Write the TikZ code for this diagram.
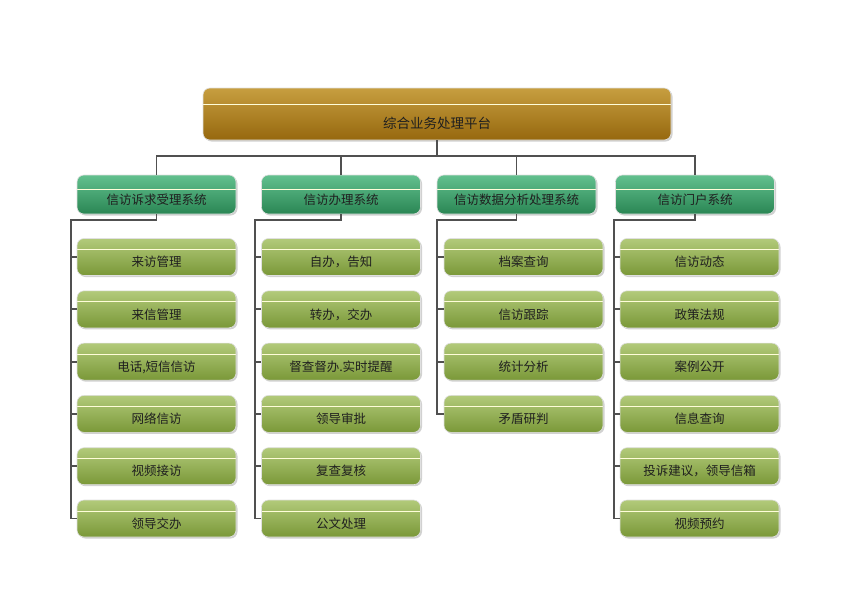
\documentclass[tikz,border=0pt]{standalone}
\usepackage{fontspec}
\setmainfont{Noto Sans CJK SC}
\usepackage{tikz}
\usetikzlibrary{shadows}
\definecolor{goldtop}{RGB}{199,158,64}
\definecolor{goldbot}{RGB}{150,104,14}
\definecolor{greentop}{RGB}{98,192,142}
\definecolor{greenbot}{RGB}{42,134,84}
\definecolor{olivetop}{RGB}{178,202,122}
\definecolor{olivebot}{RGB}{122,152,56}
\definecolor{linkgray}{RGB}{80,80,80}

\begin{document}
\begin{tikzpicture}[x=1pt, y=-1pt, font=\fontsize{12.5}{14}\selectfont,
  box/.style={rounded corners=7pt, draw=white!88!black, line width=0.6pt, text=black!88, text depth=0pt,
    drop shadow={shadow xshift=1.5pt, shadow yshift=-1.5pt, opacity=0.3, fill=black!60}},
  divider/.style={path picture={\draw[white!85!yellow, line width=0.9pt]
    ([yshift=-#1]path picture bounding box.north west) -- ([yshift=-#1]path picture bounding box.north east);}},
  platbox/.style={box, minimum width=468pt, minimum height=52pt, top color=goldtop, bottom color=goldbot,
    divider=16pt, text height=28pt, font=\fontsize{13.5}{15}\selectfont},
  sysbox/.style={box, minimum width=159pt, minimum height=39pt, top color=greentop, bottom color=greenbot,
    divider=14pt, text height=20.5pt},
  itembox/.style={box, minimum width=159pt, minimum height=37pt, top color=olivetop, bottom color=olivebot,
    divider=11pt, text height=19.5pt},
  link/.style={draw=linkgray, line width=1.8pt}]
  \useasboundingbox (0,0) rectangle (860,608);

  \node[platbox] (plat) at (437,114) {综合业务处理平台};
  \node[sysbox] (h1) at (156.5,194.5) {信访诉求受理系统};
  \node[sysbox] (h2) at (341,194.5) {信访办理系统};
  \node[sysbox] (h3) at (516.5,194.5) {信访数据分析处理系统};
  \node[sysbox] (h4) at (695,194.5) {信访门户系统};

  \foreach \t [count=\i] in {来访管理,来信管理,{电话,短信信访},网络信访,视频接访,领导交办}
    \node[itembox] (a\i) at (156.5,{257+52.3*(\i-1)}) {\t};
  \foreach \t [count=\i] in {自办，告知,转办，交办,督查督办.实时提醒,领导审批,复查复核,公文处理}
    \node[itembox] (b\i) at (341,{257+52.3*(\i-1)}) {\t};
  \foreach \t [count=\i] in {档案查询,信访跟踪,统计分析,矛盾研判}
    \node[itembox] (c\i) at (523.5,{257+52.3*(\i-1)}) {\t};
  \foreach \t [count=\i] in {信访动态,政策法规,案例公开,信息查询,投诉建议，领导信箱,视频预约}
    \node[itembox] (d\i) at (699.5,{257+52.3*(\i-1)}) {\t};

  \draw[link] (plat.south) -- ++(0,16) coordinate (bus);
  \foreach \h in {h1,h2,h3,h4}
    \draw[link] (bus) -| (\h.north);

  \draw[link] (h1.south) -- ++(0,6) -| ([xshift=-6pt]a6.west) -- (a6.west);
  \draw[link] (h2.south) -- ++(0,6) -| ([xshift=-6pt]b6.west) -- (b6.west);
  \draw[link] (h3.south) -- ++(0,6) -| ([xshift=-7pt]c4.west) -- (c4.west);
  \draw[link] (h4.south) -- ++(0,6) -| ([xshift=-6pt]d6.west) -- (d6.west);
  \foreach \i in {1,...,5} {
    \draw[link] ([xshift=-6pt]a\i.west) -- (a\i.west);
    \draw[link] ([xshift=-6pt]b\i.west) -- (b\i.west);
    \draw[link] ([xshift=-6pt]d\i.west) -- (d\i.west);
  }
  \foreach \i in {1,2,3}
    \draw[link] ([xshift=-7pt]c\i.west) -- (c\i.west);
\end{tikzpicture}
\end{document}
